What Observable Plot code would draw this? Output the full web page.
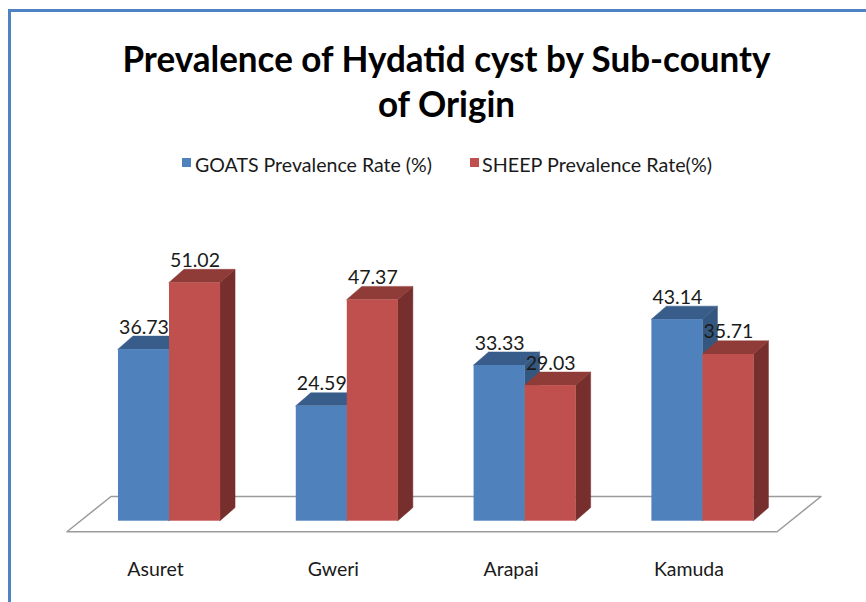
<!DOCTYPE html>
<html>
<head>
<meta charset="utf-8">
<script src="https://cdn.jsdelivr.net/npm/d3@7"></script>
<script src="https://cdn.jsdelivr.net/npm/@observablehq/plot@0.6"></script>
<style>
  html, body { margin: 0; padding: 0; background: #fff; }
  #wrap { position: relative; width: 866px; height: 602px; overflow: hidden;
          font-family: Lato, "Liberation Sans", sans-serif; color: #111; }
  #border { position: absolute; left: 8px; top: 9px; width: 900px; height: 700px;
            border-top: 3px solid #4f83c4; border-left: 3px solid #4f83c4;
            z-index: 5; pointer-events: none; }
  #title { position: absolute; left: 0; width: 892px; text-align: center;
           font-weight: bold; font-size: 37px; line-height: 45px; color: #000; white-space: nowrap; }
  #title span { display: inline-block; transform-origin: 50% 50%; }
  .sw { position: absolute; width: 9px; height: 9px; top: 158px; }
  .lt { position: absolute; top: 154px; font-size: 20px; line-height: 20px; white-space: nowrap;
        transform-origin: 0 50%; color: #1a1a1a; }
  #chart { position: absolute; left: 0; top: 185px; }
</style>
</head>
<body>
<div id="wrap">
  <div id="border"></div>
  <div id="title" style="top:35px"><span id="t1"></span><br><span id="t2"></span></div>
  <div id="legend"></div>
  <div id="chart"></div>
</div>
<script>
// ---- data ----
const titleLines = ["Prevalence of Hydatid cyst by Sub-county", "of Origin"];
const subcounties = ["Asuret", "Gweri", "Arapai", "Kamuda"];
const goatRates = [36.73, 24.59, 33.33, 43.14];
const sheepRates = [51.02, 47.37, 29.03, 35.71];
const seriesLabels = ["GOATS Prevalence Rate (%)", "SHEEP Prevalence Rate(%)"];

// ---- styles ----
const frontColors = ["#4F81BD", "#C0504D"];
const topColors = ["#385D8A", "#8F3C39"];
const sideColors = ["#34577F", "#772F2D"];

// ---- title ----
const t1 = document.getElementById("t1"), t2 = document.getElementById("t2");
t1.textContent = titleLines[0];
t2.textContent = titleLines[1];
const ts = 648 / t1.getBoundingClientRect().width;
t1.style.transform = `scaleX(${ts})`;
t2.style.transform = `scaleX(${ts})`;

// ---- legend ----
const legend = document.getElementById("legend");
const legendPos = [{sw: 182, tx: 195, w: 237}, {sw: 470, tx: 482, w: 230}];
seriesLabels.forEach((lab, s) => {
  const sq = document.createElement("div");
  sq.className = "sw";
  sq.style.left = legendPos[s].sw + "px";
  sq.style.background = frontColors[s];
  legend.appendChild(sq);
  const t = document.createElement("div");
  t.className = "lt";
  t.style.left = legendPos[s].tx + "px";
  t.textContent = lab;
  legend.appendChild(t);
  const k = legendPos[s].w / t.getBoundingClientRect().width;
  t.style.transform = `scaleX(${k})`;
});

// ---- geometry built from the data ----
const W = 0.287;             // bar width (group units)
const DX = 0.0844, DY = 2.8; // 3-D depth offset
const series = [goatRates, sheepRates];
const bars = [];
subcounties.forEach((c, i) => {
  series.forEach((arr, s) => {
    bars.push({id: c + "-" + s, cat: c, s, value: arr[i],
               x1: i + (s - 1) * W, x2: i + s * W, xc: i + (s - 0.5) * W});
  });
});
const sides = bars.flatMap(b => [
  {id: b.id, s: b.s, x: b.x2, y1: 0, y2: b.value},
  {id: b.id, s: b.s, x: b.x2 + DX, y1: DY, y2: b.value + DY}
]);
const tops = bars.flatMap(b => [
  {id: b.id, s: b.s, y: b.value, x1: b.x1, x2: b.x2},
  {id: b.id, s: b.s, y: b.value + DY, x1: b.x1 + DX, x2: b.x2 + DX}
]);
const floorPts = [
  {y: -2.36, x1: -0.574, x2: 3.42},
  {y: 5.18, x1: -0.326, x2: 3.667}
];
const cats = subcounties.map((c, i) => ({c, i}));

const marks = [
  Plot.areaX(floorPts, {y: "y", x1: "x1", x2: "x2", fill: "white", stroke: "#9b9b9b", strokeWidth: 1.5})
];
[0, 1].forEach(s => marks.push(Plot.areaY(sides.filter(d => d.s === s),
  {x: "x", y1: "y1", y2: "y2", z: "id", fill: sideColors[s], stroke: sideColors[s], strokeWidth: 0.5})));
[0, 1].forEach(s => marks.push(Plot.areaX(tops.filter(d => d.s === s),
  {y: "y", x1: "x1", x2: "x2", z: "id", fill: topColors[s], stroke: topColors[s], strokeWidth: 0.5})));
[0, 1].forEach(s => marks.push(Plot.rect(bars.filter(d => d.s === s),
  {x1: "x1", x2: "x2", y1: 0, y2: "value", fill: frontColors[s]})));
marks.push(Plot.text(bars, {x: "xc", y: "value", text: d => d.value.toFixed(2),
  dy: -16, lineAnchor: "bottom", fontSize: 19.5, fill: "#1a1a1a"}));
marks.push(Plot.text(cats, {x: "i", y: 0, text: "c", dx: -14, dy: 55,
  lineAnchor: "bottom", fontSize: 19.5, fill: "#1a1a1a"}));

const chart = Plot.plot({
  width: 866,
  height: 417,
  margin: 0,
  x: {type: "linear", domain: [-0.9505, 3.920], axis: null},
  y: {type: "linear", domain: [-17.41, 71.88], axis: null},
  style: {background: "transparent", fontFamily: "Lato, 'Liberation Sans', sans-serif"},
  marks
});
document.getElementById("chart").appendChild(chart);
</script>
</body>
</html>
